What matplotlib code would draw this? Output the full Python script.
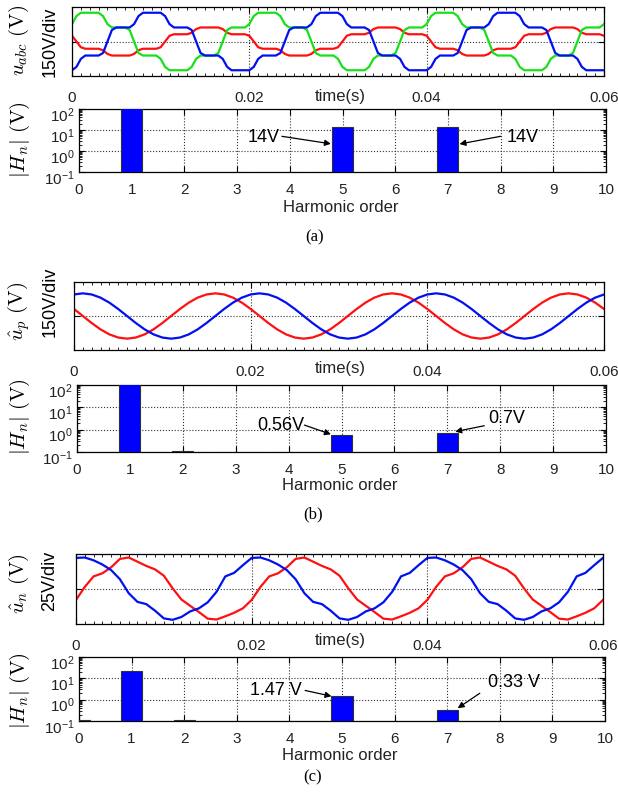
import numpy as np
import matplotlib
matplotlib.use('Agg')
import matplotlib.pyplot as plt
from matplotlib.ticker import MultipleLocator, LogLocator, NullFormatter, FixedLocator
from matplotlib.transforms import ScaledTranslation

plt.rcParams['font.family'] = ['Liberation Sans', 'DejaVu Sans']
plt.rcParams['mathtext.fontset'] = 'custom'
plt.rcParams['mathtext.rm'] = 'Liberation Sans'
plt.rcParams['mathtext.it'] = 'Liberation Sans:italic'
plt.rcParams['mathtext.bf'] = 'Liberation Sans:bold'

W, H = 618, 793

# ---- waveform data ----
# (a) phase voltages, sampled every 0.5 ms, 0..60 ms
t_a = np.arange(0, 60.5, 0.5) / 1000
ua_green = [151, 221, 250, 250, 250, 250, 250, 221, 151, 122, 122, 122, 122, 100, 0, -100, -122, -122, -122, -122,
            -151, -221, -250, -250, -250, -250, -250, -221, -151, -122, -122, -122, -122, -100, 0, 100, 122, 122, 122, 122,
            151, 221, 250, 250, 250, 250, 250, 221, 151, 122, 122, 122, 122, 100, 0, -100, -122, -122, -122, -122,
            -151, -221, -250, -250, -250, -250, -250, -221, -151, -122, -122, -122, -122, -100, 0, 100, 122, 122, 122, 122,
            151, 221, 250, 250, 250, 250, 250, 221, 151, 122, 122, 122, 122, 100, 0, -100, -122, -122, -122, -122,
            -151, -221, -250, -250, -250, -250, -250, -221, -151, -122, -122, -122, -122, -100, 0, 100, 122, 122, 122, 122,
            151]
ua_blue = [-250, -221, -151, -122, -122, -122, -122, -100, 0, 100, 122, 122, 122, 122, 151, 221, 250, 250, 250, 250,
           250, 221, 151, 122, 122, 122, 122, 100, 0, -100, -122, -122, -122, -122, -151, -221, -250, -250, -250, -250,
           -250, -221, -151, -122, -122, -122, -122, -100, 0, 100, 122, 122, 122, 122, 151, 221, 250, 250, 250, 250,
           250, 221, 151, 122, 122, 122, 122, 100, 0, -100, -122, -122, -122, -122, -151, -221, -250, -250, -250, -250,
           -250, -221, -151, -122, -122, -122, -122, -100, 0, 100, 122, 122, 122, 122, 151, 221, 250, 250, 250, 250,
           250, 221, 151, 122, 122, 122, 122, 100, 0, -100, -122, -122, -122, -122, -151, -221, -250, -250, -250, -250,
           -250]
ua_red = [50, 0, -50, -63, -63, -63, -63, -76, -108, -122, -122, -122, -122, -122, -108, -76, -63, -63, -63, -63,
          -50, 0, 50, 63, 63, 63, 63, 76, 108, 122, 122, 122, 122, 122, 108, 76, 63, 63, 63, 63,
          50, 0, -50, -63, -63, -63, -63, -76, -108, -122, -122, -122, -122, -122, -108, -76, -63, -63, -63, -63,
          -50, 0, 50, 63, 63, 63, 63, 76, 108, 122, 122, 122, 122, 122, 108, 76, 63, 63, 63, 63,
          50, 0, -50, -63, -63, -63, -63, -76, -108, -122, -122, -122, -122, -122, -108, -76, -63, -63, -63, -63,
          -50, 0, 50, 63, 63, 63, 63, 76, 108, 122, 122, 122, 122, 122, 108, 76, 63, 63, 63, 63,
          50]

# (b) and (c), sampled every 1 ms, 0..60 ms
t_bc = np.arange(0, 61, 1) / 1000
up_blue = [190, 200, 190, 162, 118, 62, 0, -62, -118, -162, -190, -200, -190, -162, -118, -62, 0, 62, 118, 162,
           190, 200, 190, 162, 118, 62, 0, -62, -118, -162, -190, -200, -190, -162, -118, -62, 0, 62, 118, 162,
           190, 200, 190, 162, 118, 62, 0, -62, -118, -162, -190, -200, -190, -162, -118, -62, 0, 62, 118, 162,
           190]
up_red = [62, 0, -62, -118, -162, -190, -200, -190, -162, -118, -62, 0, 62, 118, 162, 190, 200, 190, 162, 118,
          62, 0, -62, -118, -162, -190, -200, -190, -162, -118, -62, 0, 62, 118, 162, 190, 200, 190, 162, 118,
          62, 0, -62, -118, -162, -190, -200, -190, -162, -118, -62, 0, 62, 118, 162, 190, 200, 190, 162, 118,
          62]
un_blue = [22.2, 22.5, 20.5, 17.5, 13.5, 7.0, -3.0, -9.2, -10.8, -15.5, -21.0, -22.0, -20.0, -16.0, -13.8, -9.5, -2.0, 9.0, 11.5, 17.0,
           22.2, 22.5, 20.5, 17.5, 13.5, 7.0, -3.0, -9.2, -10.8, -15.5, -21.0, -22.0, -20.0, -16.0, -13.8, -9.5, -2.0, 9.0, 11.5, 17.0,
           22.2, 22.5, 20.5, 17.5, 13.5, 7.0, -3.0, -9.2, -10.8, -15.5, -21.0, -22.0, -20.0, -16.0, -13.8, -9.5, -2.0, 9.0, 11.5, 17.0,
           22.2]
un_red = [-7.8, 1.5, 9.0, 11.2, 15.5, 21.5, 22.5, 19.5, 16.5, 14.0, 9.5, 0.5, -7.5, -12.0, -16.5, -21.2, -21.8, -19.5, -17.0, -13.8,
          -7.8, 1.5, 9.0, 11.2, 15.5, 21.5, 22.5, 19.5, 16.5, 14.0, 9.5, 0.5, -7.5, -12.0, -16.5, -21.2, -21.8, -19.5, -17.0, -13.8,
          -7.8, 1.5, 9.0, 11.2, 15.5, 21.5, 22.5, 19.5, 16.5, 14.0, 9.5, 0.5, -7.5, -12.0, -16.5, -21.2, -21.8, -19.5, -17.0, -13.8,
          -7.8]

# ---- harmonic spectra ----
orders_a = [1, 5, 7]
hn_a = [230, 14, 14]
orders_b = [1, 2, 5, 7]
hn_b = [200, 0.115, 0.56, 0.7]
orders_c = [0, 1, 2, 5, 7]
hn_c = [0.11, 23, 0.11, 1.47, 0.33]

time_ticks = [0, 0.02, 0.04, 0.06]
time_labels = ['0', '0.02', '0.04', '0.06']
harm_ticks = list(range(11))
decade_ticks = [0.1, 1, 10, 100]

RED = '#ff1010'
GREEN = '#18e018'
BLUE = '#0010f0'
TXT = '#222222'

fig = plt.figure(figsize=(W / 100, H / 100), dpi=100)


def px_axes(x0, y0, x1, y1):
    return fig.add_axes([x0 / W, 1 - y1 / H, (x1 - x0) / W, (y1 - y0) / H])


def ftext(x, y, s, **kw):
    fig.text(x / W, 1 - y / H, s, **kw)


def wave_panel(box, t, curves, ylim):
    ax = px_axes(*box)
    for vals, col in curves:
        ax.plot(t, vals, color=col, lw=1.6)
    ax.set_xlim(0, 0.06)
    ax.set_ylim(-ylim, ylim)
    ax.set_xticks(time_ticks)
    ax.set_xticklabels(time_labels)
    ax.set_yticks([0])
    ax.set_yticklabels([])
    ax.xaxis.set_minor_locator(MultipleLocator(0.001))
    ax.tick_params(which='both', direction='in', top=True, right=True,
                   labelsize=11, labelcolor=TXT, pad=11)
    ax.tick_params(which='major', length=4)
    ax.tick_params(which='minor', length=2)
    ax.grid(True, which='major', linestyle=':', color='#333333', lw=0.8)
    for s in ax.spines.values():
        s.set_linewidth(0.9)
    return ax


def bar_panel(box, orders, vals):
    ax = px_axes(*box)
    ax.set_yscale('log')
    ax.bar(orders, [v - 0.1 for v in vals], bottom=0.1, width=0.4,
           color='#0000ff', edgecolor='#303030', linewidth=0.8, zorder=3)
    ax.set_xlim(0, 10)
    ax.set_ylim(0.1, 100)
    ax.set_xticks(harm_ticks)
    ax.yaxis.set_major_locator(FixedLocator(decade_ticks))
    ax.yaxis.set_minor_locator(LogLocator(base=10, subs=np.arange(2, 10), numticks=10))
    ax.yaxis.set_minor_formatter(NullFormatter())
    ax.tick_params(which='both', direction='in', top=True, right=True,
                   labelsize=11, labelcolor=TXT)
    ax.tick_params(axis='x', pad=8)
    ax.tick_params(axis='y', pad=3)
    ax.tick_params(which='major', length=4)
    ax.tick_params(which='minor', length=2)
    ax.set_axisbelow(True)
    ax.grid(True, which='major', linestyle=':', color='#333333', lw=0.8)
    for s in ax.spines.values():
        s.set_linewidth(0.9)
    # labels sit a little low, as in the original
    shift = ScaledTranslation(0, -3.5 / 72, fig.dpi_scale_trans)
    for lab in ax.get_yticklabels():
        lab.set_transform(lab.get_transform() + shift)
    return ax


def arrow(ax, txt, txt_xy, start, tip):
    ax.text(txt_xy[0], txt_xy[1], txt, fontsize=13, ha='center', va='center', color='k')
    ax.annotate('', xy=tip, xytext=start,
                arrowprops=dict(arrowstyle='-|>', color='k', lw=0.9,
                                mutation_scale=9, shrinkA=0, shrinkB=0))


def side_labels(ylab, ylab_y, scale, scale_y, bar_y):
    ftext(19, ylab_y, ylab, rotation=90, ha='center', va='center', fontsize=15, math_fontfamily='cm')
    ftext(50, scale_y, scale, rotation=90, ha='center', va='center', fontsize=13, color='k')
    ftext(20, bar_y, r'$|H_n|\ \mathrm{(V)}$', rotation=90, ha='center', va='center',
          fontsize=15, math_fontfamily='cm')


# ---------------- (a) ----------------
wave_panel((72, 7, 604, 76), t_a, [(ua_red, RED), (ua_green, GREEN), (ua_blue, BLUE)], 300)
ftext(340, 97, 'time(s)', fontsize=12, ha='center', va='center', color=TXT)
axa = bar_panel((79, 109, 606, 172), orders_a, hn_a)
arrow(axa, '14V', (3.5, 4.2), (3.85, 5.0), (4.78, 2.2))
arrow(axa, '14V', (8.42, 4.2), (8.0, 5.0), (7.22, 2.15))
ftext(341, 207, 'Harmonic order', fontsize=12, ha='center', va='center', color=TXT)
ftext(315, 237, '(a)', fontsize=12, ha='center', va='center', family='Liberation Serif')
side_labels(r'$u_{abc}\ \mathrm{(V)}$', 40, '150V/div', 42, 140)

# ---------------- (b) ----------------
wave_panel((74, 282, 604, 350), t_bc, [(up_red, RED), (up_blue, BLUE)], 300)
ftext(340, 368, 'time(s)', fontsize=12, ha='center', va='center', color=TXT)
axb = bar_panel((77, 385, 606, 452), orders_b, hn_b)
arrow(axb, '0.56V', (3.85, 1.6), (4.3, 1.6), (4.8, 0.62))
arrow(axb, '0.7V', (8.13, 3.3), (7.7, 1.5), (7.15, 0.82))
ftext(340, 485, 'Harmonic order', fontsize=12, ha='center', va='center', color=TXT)
ftext(313, 514, '(b)', fontsize=12, ha='center', va='center', family='Liberation Serif')
side_labels(r'$\hat{u}_p\ \mathrm{(V)}$', 311, '150V/div', 302, 417)

# ---------------- (c) ----------------
wave_panel((76, 554, 603, 624), t_bc, [(un_red, RED), (un_blue, BLUE)], 25)
ftext(340, 641, 'time(s)', fontsize=12, ha='center', va='center', color=TXT)
axc = bar_panel((79, 657, 605, 721), orders_c, hn_c)
arrow(axc, '1.47 V', (3.75, 2.55), (4.3, 2.7), (4.8, 1.45))
arrow(axc, '0.33 V', (8.27, 6.7), (7.62, 2.0), (7.2, 0.4))
ftext(340, 756, 'Harmonic order', fontsize=12, ha='center', va='center', color=TXT)
ftext(313, 777, '(c)', fontsize=12, ha='center', va='center', family='Liberation Serif')
side_labels(r'$\hat{u}_n\ \mathrm{(V)}$', 584, '25V/div', 581, 691)

fig.savefig('out.png', dpi=100)
